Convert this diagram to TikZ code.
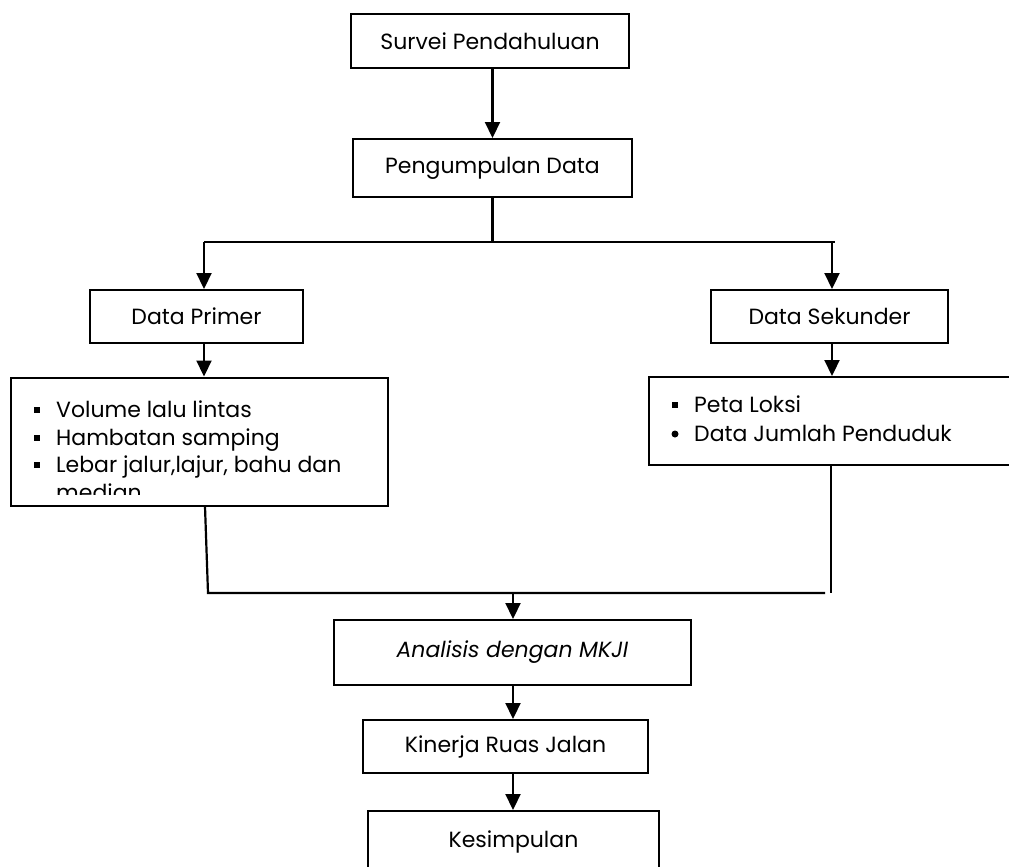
\documentclass[tikz,border=0pt]{standalone}
\usepackage{fontspec}
\setmainfont{Poppins}
\usetikzlibrary{positioning,arrows.meta}
\tikzset{
box/.style={draw=black,line width=2pt,inner sep=0pt,font=\fontsize{22}{27}\selectfont},
flow/.style={-{Triangle[length=16pt,width=15pt]},line width=2.2pt},
link/.style={line width=2.2pt},
item/.style={anchor=base west,inner sep=0pt,font=\fontsize{22}{27}\selectfont},
sqbullet/.style={fill=black,minimum size=6pt,inner sep=0pt},
dotbullet/.style={circle,fill=black,minimum size=7pt,inner sep=0pt}
}
\begin{document}
\begin{tikzpicture}[x=1pt,y=-1pt]
\useasboundingbox (0,0) rectangle (1009,867);
% boxes
\node[box,minimum width=278pt,minimum height=54pt] (survei) at (490,41) {Survei Pendahuluan};
\node[box,minimum width=279pt,minimum height=58pt] (kumpul) at (492.5,168) {Pengumpulan Data};
\node[box,minimum width=213pt,minimum height=53pt] (primer) at (196.5,316.5) {Data Primer};
\node[box,minimum width=237pt,minimum height=53pt] (sekunder) at (829.5,316.5) {Data Sekunder};
\node[box,minimum width=377pt,minimum height=128pt] (listprimer) at (199.5,441.5) {};
\node[box,minimum width=381pt,minimum height=88pt] (listsekunder) at (839.5,421) {};
\node[box,minimum width=357pt,minimum height=65pt] (analisis) at (512.5,652.5) {\itshape Analisis dengan MKJI};
\node[box,minimum width=285pt,minimum height=53pt] (kinerja) at (505.5,746.5) {Kinerja Ruas Jalan};
\node[box,minimum width=291pt,minimum height=89pt,text height=16pt,text depth=33pt] (simpul) at (513.5,855.5) {Kesimpulan};
% list items
\begin{scope}
\clip (listprimer.north west) rectangle ([yshift=12pt]listprimer.south east);
\foreach \i/\y/\txt in {1/417/{Volume lalu lintas},2/445/{Hambatan samping},3/472/{Lebar jalur,lajur, bahu dan}} {
\node[item] (p\i) at (56,\y) {\txt};
\node[sqbullet] (pb\i) at (36.5,\y-7) {};
}
\node[item] (p4) at (56,500) {median};
\end{scope}
\node[item] (s1) at (694,412) {Peta Loksi};
\node[sqbullet] (sb1) at (675,405) {};
\node[item] (s2) at (694,441) {Data Jumlah Penduduk};
\node[dotbullet] (sb2) at (675,434) {};
% connectors
\coordinate (split) at (kumpul.south |- 0,242);
\coordinate (bl) at (204,242);
\coordinate (br) at (832,242);
\coordinate (brend) at (835,242);
\coordinate (jl) at (208,593);
\coordinate (jr) at (831,593);
\coordinate (jrend) at (825,593);
\coordinate (merge) at (513,593);
\draw[flow] (kumpul.north |- survei.south) -- (kumpul.north);
\draw[link] (kumpul.south) -- (split);
\draw[link] (bl) -- (brend);
\draw[flow] (bl) -- (bl |- primer.north);
\draw[flow] (br) -- (br |- sekunder.north);
\draw[flow] (bl |- primer.south) -- (bl |- listprimer.north);
\draw[flow] (br |- sekunder.south) -- (br |- listsekunder.north);
\draw[link] (listprimer.south -| 205,0) -- (jl) -- (jrend);
\draw[link] (listsekunder.south -| jr) -- (jr);
\draw[flow] (merge) -- (merge |- analisis.north);
\draw[flow] (merge |- analisis.south) -- (merge |- kinerja.north);
\draw[flow] (merge |- kinerja.south) -- (merge |- simpul.north);
\end{tikzpicture}
\end{document}
